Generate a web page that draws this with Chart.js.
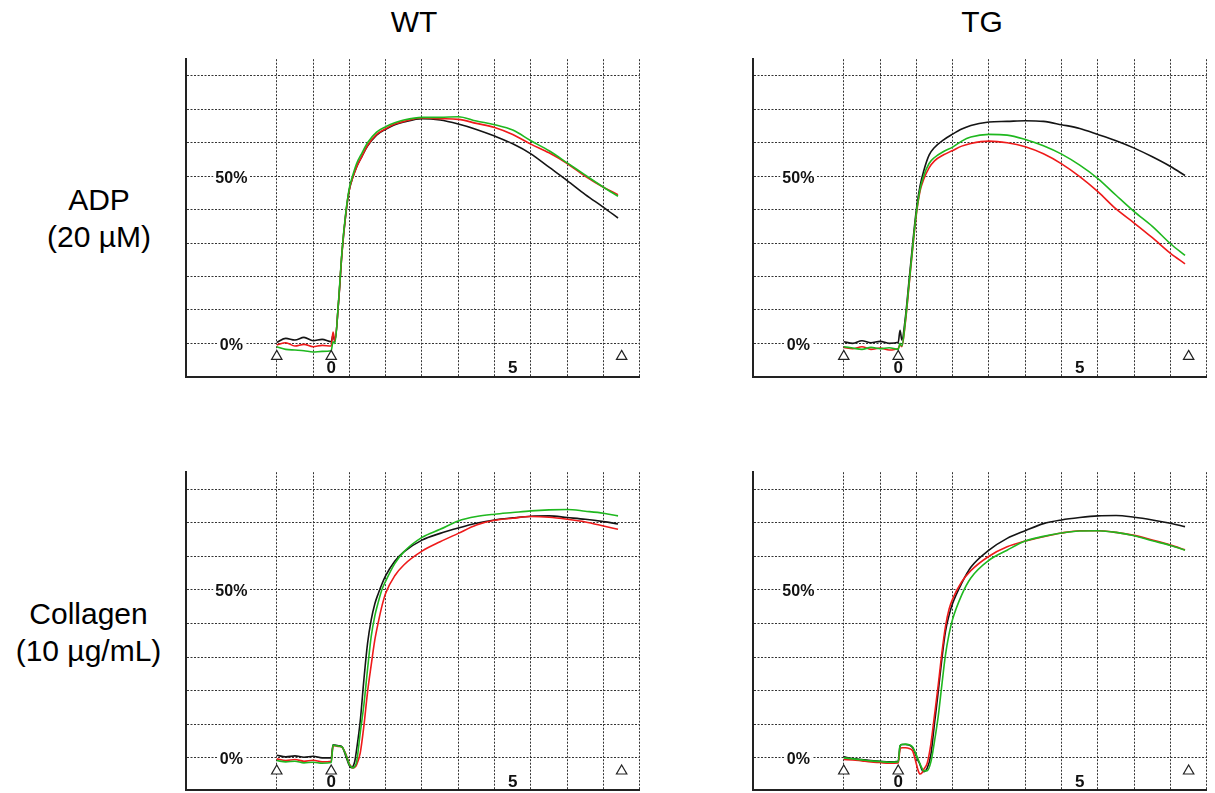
<!DOCTYPE html>
<html>
<head>
<meta charset="utf-8">
<script src="https://cdn.jsdelivr.net/npm/chart.js@4.4.1/dist/chart.umd.min.js"></script>
<style>
  html, body { margin: 0; padding: 0; background: #fff; overflow: hidden; }
  body { width: 1215px; height: 793px; position: relative; font-family: "Liberation Sans", Arial, sans-serif; }
  .title, .row { position: absolute; font-size: 30px; line-height: 37px; text-align: center; color: #000; }
  canvas { position: absolute; }
</style>
</head>
<body>
<div class="title" style="left:314px; width:200px; top:3px;">WT</div>
<div class="title" style="left:882px; width:200px; top:3px;">TG</div>
<div class="row" style="left:0; width:198px; top:181px;">ADP<br>(20 µM)</div>
<div class="row" style="left:0; width:177px; top:595px;">Collagen<br>(10 µg/mL)</div>

<canvas id="wtAdp" width="469" height="332" style="left:178px; top:52px;"></canvas>
<canvas id="tgAdp" width="469" height="332" style="left:745px; top:52px;"></canvas>
<canvas id="wtCol" width="469" height="332" style="left:178px; top:465px;"></canvas>
<canvas id="tgCol" width="469" height="332" style="left:745px; top:465px;"></canvas>

<script>
// time in minutes, aggregation in %
const xGrid = [-1.5, -0.5, 0.5, 1.5, 2.5, 3.5, 4.5, 5.5, 6.5, 7.5, 8.5];
const yGrid = [0, 10, 20, 30, 40, 50, 60, 70, 80];
const xTickLabels = [{ value: 0, text: '0' }, { value: 5, text: '5' }];
const yTickLabels = [{ value: 50, text: '50%' }, { value: 0, text: '0%' }];
const markerTimes = [-1.5, 0, 8];
const markerLevel = -3.9;

const adpTime = [-1.5, -1.25, -1.0, -0.75, -0.5, -0.25, 0, 0.05, 0.1, 0.2, 0.3, 0.4, 0.5, 0.6, 0.7, 0.85,
  1.0, 1.25, 1.5, 1.75, 2.0, 2.5, 3.0, 3.5, 4.0, 4.5, 5.0, 5.5, 6.0, 6.5, 7.0, 7.5, 7.9];

const wtAdpBlack = [0.3, 1.5, 1.0, 1.8, 0.8, 1.2, 0.5, 2.5, 0.6, 12.0, 27.5, 38.5, 46.0, 49.8, 52.8, 56.0,
  59.0, 62.3, 64.0, 65.4, 66.2, 67.2, 66.8, 65.6, 64.0, 62.0, 59.7, 56.7, 52.7, 48.7, 44.5, 40.7, 37.5];
const wtAdpRed = [-0.5, 0.2, -0.8, -0.3, -1.0, -0.6, -0.8, 3.4, 0.8, 12.0, 27.5, 38.5, 46.0, 49.8, 52.8, 56.0,
  59.2, 62.5, 64.2, 65.6, 66.4, 67.4, 67.2, 67.0, 65.8, 64.6, 62.5, 59.6, 57.0, 53.8, 50.0, 46.7, 44.5];
const wtAdpGreen = [-1.0, -1.8, -2.0, -2.2, -2.6, -2.4, -2.2, 0.5, 0.0, 12.5, 28.0, 39.0, 46.5, 50.5, 53.8, 57.0,
  60.0, 63.2, 64.8, 66.0, 66.8, 67.6, 67.6, 67.8, 66.5, 65.4, 63.8, 60.6, 57.6, 54.0, 50.3, 46.7, 44.0];

const tgAdpBlack = [0.5, 0.0, 0.8, 0.2, 0.6, 0.0, 0.3, 3.9, 1.0, 8.0, 19.0, 30.0, 40.0, 47.0, 51.5, 56.3,
  58.6, 60.9, 62.6, 64.1, 65.2, 66.2, 66.4, 66.6, 66.4, 65.4, 64.3, 62.5, 60.6, 58.4, 55.8, 52.9, 50.2];
const tgAdpRed = [-1.2, -1.6, -1.0, -1.8, -1.4, -2.0, -1.5, -0.5, -1.0, 6.5, 17.5, 28.5, 38.5, 45.5, 49.0, 52.5,
  54.6, 56.4, 57.7, 59.0, 59.8, 60.5, 60.0, 58.8, 56.7, 53.7, 49.9, 45.4, 40.2, 36.0, 31.6, 26.9, 23.8];
const tgAdpGreen = [-1.0, -1.4, -1.8, -1.2, -1.6, -1.3, -1.8, 0.0, -0.8, 7.0, 18.0, 29.0, 39.0, 46.0, 50.0, 53.8,
  55.6, 57.4, 58.7, 60.5, 61.7, 62.5, 62.3, 61.0, 59.1, 56.6, 53.3, 49.3, 44.3, 39.4, 35.0, 29.8, 26.3];

const colTime = [-1.5, -1.25, -1.0, -0.75, -0.5, -0.25, 0, 0.05, 0.1, 0.2, 0.3, 0.4, 0.5, 0.55, 0.6, 0.65, 0.7,
  0.8, 0.9, 1.0, 1.1, 1.2, 1.3, 1.4, 1.5, 1.75, 2.0, 2.5, 3.0, 3.5, 4.0, 4.5, 5.0, 5.5, 6.0, 6.5, 7.0, 7.5, 7.9];

const wtColBlack = [0.8, 0.3, 0.6, 0.2, 0.5, 0.0, 0.0, 3.9, 3.8, 3.6, 3.3, 0.6, -2.3, -2.9, -2.5, -1.0, 2.5,
  11.0, 23.3, 34.0, 41.0, 45.8, 49.0, 51.8, 54.2, 58.5, 61.3, 64.8, 66.8, 68.4, 69.8, 70.8, 71.4, 71.9, 72.0, 71.5, 71.0, 70.3, 69.6];
const wtColRed = [-0.3, -0.8, -0.5, -1.0, -0.7, -1.2, -1.0, 3.5, 3.6, 3.4, 3.1, 1.2, -1.8, -2.6, -3.0, -2.8, -2.0,
  1.5, 9.5, 19.5, 27.5, 35.0, 40.5, 45.3, 49.0, 54.2, 57.4, 61.5, 64.3, 66.8, 69.3, 70.7, 71.3, 71.8, 71.6, 71.0, 70.2, 69.0, 68.0];
const wtColGreen = [-0.8, -1.2, -1.0, -1.5, -1.3, -1.6, -1.4, 3.8, 3.7, 3.5, 3.2, 1.0, -2.0, -2.7, -3.0, -2.5, -1.2,
  7.5, 15.8, 26.3, 36.0, 42.2, 46.5, 50.2, 52.6, 57.8, 61.3, 65.6, 68.0, 70.5, 71.8, 72.5, 73.0, 73.5, 73.8, 73.9, 73.4, 72.8, 72.0];

const tgColBlack = [0.3, -0.2, -0.5, -0.8, -1.0, -1.2, -1.0, 3.5, 4.0, 4.0, 3.8, 3.0, 0.5, -0.8, -2.0, -3.5, -4.1,
  -3.0, 1.0, 10.3, 19.5, 29.2, 37.5, 42.4, 46.0, 52.0, 56.7, 61.8, 65.3, 67.6, 69.7, 70.8, 71.5, 72.0, 72.1, 71.6, 70.8, 69.8, 68.8];
const tgColRed = [-0.5, -0.6, -0.9, -1.2, -1.4, -1.6, -1.5, 2.5, 3.0, 3.0, 2.8, 2.0, -1.8, -3.8, -4.8, -4.5, -3.5,
  -1.5, 4.2, 12.7, 21.5, 31.0, 39.0, 44.2, 47.3, 52.4, 55.7, 60.0, 62.8, 64.5, 65.8, 66.9, 67.6, 67.6, 67.1, 66.2, 64.8, 63.3, 61.9];
const tgColGreen = [0.0, -0.3, -0.6, -0.9, -1.1, -1.3, -1.2, 3.6, 4.0, 4.1, 3.9, 3.2, 0.8, -0.5, -1.8, -3.0, -3.9,
  -3.8, -1.2, 5.0, 12.2, 21.5, 30.5, 36.8, 41.3, 48.5, 53.5, 58.8, 61.8, 64.5, 65.9, 66.9, 67.5, 67.6, 67.1, 66.1, 64.6, 63.2, 61.8];

const yLabelAt = -2.75;  // x position of the % labels
const xLabelAt = -7.4;   // y position of the minute labels

const labelPlugin = {
  id: 'printLabels',
  afterDraw(chart) {
    const { ctx, scales: { x, y } } = chart;
    ctx.save();
    ctx.textAlign = 'center';
    ctx.textBaseline = 'middle';
    ctx.font = 'bold 16px "Liberation Sans Narrow", "Liberation Sans", Arial, sans-serif';
    yTickLabels.forEach(t => {
      const px = x.getPixelForValue(yLabelAt);
      const py = y.getPixelForValue(t.value);
      const w = ctx.measureText(t.text).width;
      ctx.fillStyle = '#fff';
      ctx.fillRect(px - w / 2 - 2, py - 6, w + 4, 14);
      ctx.fillStyle = '#111';
      ctx.fillText(t.text, px, py + 2);
    });
    ctx.font = 'bold 17px "Liberation Sans", Arial, sans-serif';
    xTickLabels.forEach(t => {
      ctx.fillText(t.text, x.getPixelForValue(t.value), y.getPixelForValue(xLabelAt));
    });
    ctx.restore();
  }
};

function makeChart(id, time, black, red, green, yMin) {
  const series = [
    { data: green, color: '#1fb81f' },
    { data: red, color: '#ee1a1a' },
    { data: black, color: '#141414' }
  ];
  const datasets = [{
    data: markerTimes.map(t => ({ x: t, y: markerLevel })),
    showLine: false,
    pointStyle: 'triangle',
    pointRadius: 6,
    borderColor: '#222',
    borderWidth: 1.2,
    backgroundColor: '#fff'
  }];
  series.forEach(s => {
    datasets.push({
      data: time.map((t, i) => ({ x: t, y: s.data[i] })),
      borderColor: s.color,
      borderWidth: 1.6,
      pointRadius: 0,
      cubicInterpolationMode: 'monotone',
      fill: false
    });
  });

  const gridStyle = { color: '#333', lineWidth: 1, drawTicks: false };
  const borderStyle = { display: true, color: '#222', width: 2, dash: [2, 1.5] };

  new Chart(document.getElementById(id), {
    type: 'line',
    data: { datasets },
    options: {
      responsive: false,
      animation: false,
      events: [],
      layout: { padding: { left: 8, right: 4, top: 4, bottom: 4 } },
      plugins: { legend: { display: false }, tooltip: { enabled: false } },
      scales: {
        x: {
          type: 'linear', min: -4, max: 8.5,
          afterBuildTicks: ax => { ax.ticks = xGrid.map(v => ({ value: v })); },
          ticks: { display: false },
          grid: gridStyle,
          border: borderStyle
        },
        y: {
          type: 'linear', min: yMin, max: 85,
          afterBuildTicks: ax => { ax.ticks = yGrid.map(v => ({ value: v })); },
          ticks: { display: false },
          grid: gridStyle,
          border: borderStyle
        }
      }
    },
    plugins: [labelPlugin]
  });
}

makeChart('wtAdp', adpTime, wtAdpBlack, wtAdpRed, wtAdpGreen, -10);
makeChart('tgAdp', adpTime, tgAdpBlack, tgAdpRed, tgAdpGreen, -10);
makeChart('wtCol', colTime, wtColBlack, wtColRed, wtColGreen, -9.5);
makeChart('tgCol', colTime, tgColBlack, tgColRed, tgColGreen, -9.5);
</script>
</body>
</html>
